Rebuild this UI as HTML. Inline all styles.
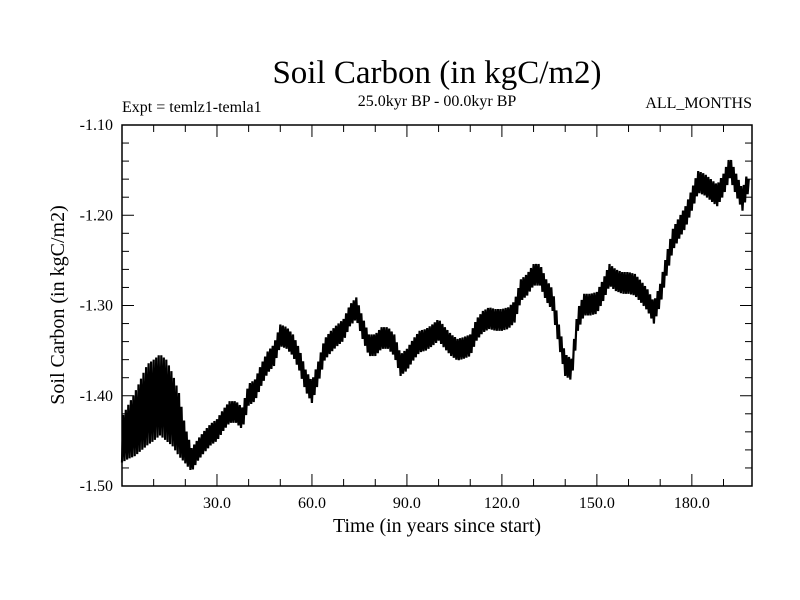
<!DOCTYPE html>
<html><head><meta charset="utf-8"><style>
body{margin:0;background:#fff}
svg{display:block;font-family:"Liberation Serif",serif}
</style></head><body>
<svg id="chart" width="800" height="600" viewBox="0 0 800 600">
<rect width="800" height="600" fill="#fff"/>
<text x="437" y="83" font-size="33" text-anchor="middle">Soil Carbon (in kgC/m2)</text>
<text x="122" y="112" font-size="16">Expt = temlz1-temla1</text>
<text x="437" y="106" font-size="16" text-anchor="middle">25.0kyr BP - 00.0kyr BP</text>
<text x="752" y="108" font-size="16" text-anchor="end">ALL_MONTHS</text>
<text x="437" y="532" font-size="20" text-anchor="middle">Time (in years since start)</text>
<text x="0" y="0" font-size="20" text-anchor="middle" transform="translate(64,305) rotate(-90)">Soil Carbon (in kgC/m2)</text>
<g id="axes"></g>
<g id="series"></g>
<rect x="122" y="125" width="630" height="361" fill="none" stroke="#000" stroke-width="1.5"/>
</svg>
<script>
const years=[0,2,4,6,8,10,12,14,16,18,20,22,24,26,28,30,32,34,36,38,40,42,44,46,48,50,52,54,56,58,60,62,64,66,68,70,72,74,76,78,80,82,84,86,88,90,92,94,96,98,100,102,104,106,108,110,112,114,116,118,120,122,124,126,128,130,132,134,136,138,140,142,144,146,148,150,152,154,156,158,160,162,164,166,168,170,172,174,176,178,180,182,184,186,188,190,192,194,196,198];
const carbon=[-1.449,-1.440,-1.432,-1.421,-1.410,-1.405,-1.399,-1.405,-1.416,-1.432,-1.455,-1.471,-1.460,-1.451,-1.443,-1.438,-1.427,-1.418,-1.418,-1.425,-1.399,-1.394,-1.377,-1.363,-1.355,-1.333,-1.336,-1.344,-1.360,-1.383,-1.396,-1.374,-1.349,-1.340,-1.333,-1.327,-1.311,-1.303,-1.325,-1.344,-1.344,-1.336,-1.336,-1.344,-1.366,-1.360,-1.349,-1.340,-1.338,-1.333,-1.327,-1.336,-1.344,-1.349,-1.347,-1.344,-1.327,-1.318,-1.314,-1.316,-1.316,-1.314,-1.307,-1.283,-1.277,-1.266,-1.266,-1.283,-1.294,-1.333,-1.366,-1.371,-1.316,-1.299,-1.299,-1.297,-1.283,-1.266,-1.272,-1.275,-1.275,-1.277,-1.285,-1.294,-1.308,-1.288,-1.255,-1.227,-1.214,-1.202,-1.183,-1.163,-1.166,-1.172,-1.178,-1.166,-1.147,-1.166,-1.183,-1.160];
const spread=[0.025,0.03,0.035,0.04,0.045,0.045,0.045,0.045,0.04,0.035,0.02,0.013,0.012,0.012,0.012,0.012,0.012,0.012,0.012,0.012,0.012,0.012,0.012,0.012,0.012,0.012,0.012,0.012,0.012,0.012,0.012,0.012,0.012,0.012,0.012,0.012,0.012,0.012,0.012,0.012,0.012,0.012,0.012,0.012,0.012,0.012,0.012,0.012,0.012,0.012,0.012,0.012,0.012,0.012,0.012,0.012,0.012,0.012,0.012,0.012,0.012,0.012,0.012,0.012,0.012,0.012,0.012,0.012,0.012,0.012,0.012,0.012,0.012,0.012,0.012,0.012,0.012,0.012,0.012,0.012,0.012,0.012,0.012,0.012,0.012,0.012,0.012,0.012,0.012,0.012,0.012,0.012,0.012,0.012,0.012,0.012,0.012,0.012,0.012,0.012];
const xTicks=[30,60,90,120,150,180];
const xTickLabels=["30.0","60.0","90.0","120.0","150.0","180.0"];
const yTicks=[-1.10,-1.20,-1.30,-1.40,-1.50];
const yTickLabels=["-1.10","-1.20","-1.30","-1.40","-1.50"];
const X0=122,X1=752,Y0=125,Y1=486,xmin=0,xmax=199,ymin=-1.50,ymax=-1.10;
const sx=v=>X0+(v-xmin)/(xmax-xmin)*(X1-X0);
const sy=v=>Y1-(v-ymin)/(ymax-ymin)*(Y1-Y0);
const NS="http://www.w3.org/2000/svg";
const axes=document.getElementById('axes'),series=document.getElementById('series');
function line(x1,y1,x2,y2){const l=document.createElementNS(NS,'line');l.setAttribute('x1',x1);l.setAttribute('y1',y1);l.setAttribute('x2',x2);l.setAttribute('y2',y2);l.setAttribute('stroke','#000');l.setAttribute('stroke-width','1');axes.appendChild(l);return l;}
for(let t=10;t<xmax;t+=10){const x=sx(t),len=(t%30===0)?12:7;
let a=line(x,Y1,x,Y1-len);
let b=line(x,Y0,x,Y0+len);}
for(let k=0;k<=20;k++){const v=ymin+k*0.02,y=sy(v),len=(k%5===0)?12:7;
let a=line(X0,y,X0+len,y);
let b=line(X1,y,X1-len,y);}
xTicks.forEach((t,i)=>{const tx=document.createElementNS(NS,'text');tx.setAttribute('x',sx(t));tx.setAttribute('y',508);tx.setAttribute('font-size','16');tx.setAttribute('text-anchor','middle');tx.textContent=xTickLabels[i];


axes.appendChild(tx);});
yTicks.forEach((t,i)=>{const tx=document.createElementNS(NS,'text');tx.setAttribute('x',113);tx.setAttribute('y',sy(t)+5);tx.setAttribute('font-size','16');tx.setAttribute('text-anchor','end');tx.textContent=yTickLabels[i];


axes.appendChild(tx);});
let pts=[],sub=5,k=0;
for(let i=0;i<years.length-1;i++){for(let j=0;j<sub;j++){const f=j/sub;const yr=years[i]+f*(years[i+1]-years[i]);const c=carbon[i]+f*(carbon[i+1]-carbon[i]);const s=spread[i]+f*(spread[i+1]-spread[i]);const v=c+((k++%2)?s:-s);pts.push(sx(yr).toFixed(1)+','+sy(v).toFixed(1));}}
pts.push(sx(years[years.length-1]).toFixed(1)+','+sy(carbon[carbon.length-1]).toFixed(1));
const pl=document.createElementNS(NS,'polyline');pl.setAttribute('points',pts.join(' '));pl.setAttribute('fill','none');pl.setAttribute('stroke','#000');pl.setAttribute('stroke-width','2.2');pl.setAttribute('stroke-linejoin','miter');


series.appendChild(pl);
</script>
</body></html>
